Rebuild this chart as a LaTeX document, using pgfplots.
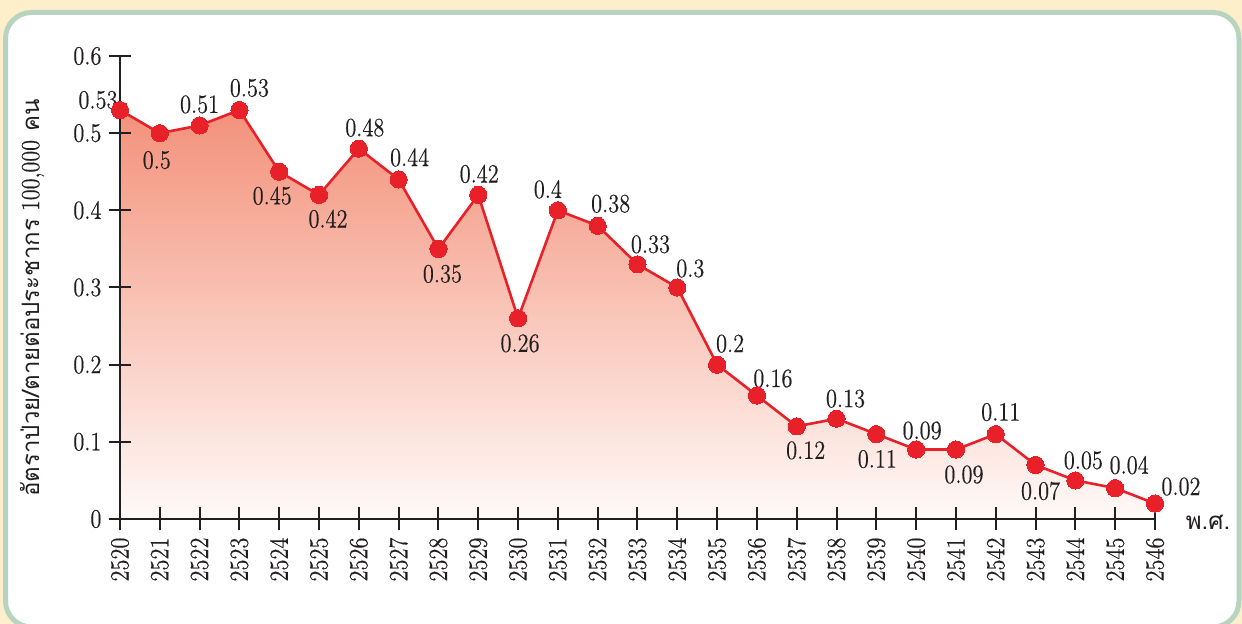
\documentclass[border=0pt]{standalone}
\usepackage{fontspec}
\usepackage{pgfplots}
\pgfplotsset{compat=1.18}
\newfontfamily\thaifont[Script=Thai]{Loma}
\newfontfamily\numfont{Latin Modern Roman}[FakeStretch=0.85,FakeBold=0.4]
\definecolor{bgbeige}{HTML}{FDEFC9}
\definecolor{panelborder}{HTML}{B9D3C1}
\definecolor{linered}{HTML}{E8202A}
\definecolor{areatop}{HTML}{F3917A}
\definecolor{areabot}{HTML}{FFFAF8}
\definecolor{axisblack}{HTML}{231F20}
\pgfplotstableread{
year val
2520 0.53
2521 0.50
2522 0.51
2523 0.53
2524 0.45
2525 0.42
2526 0.48
2527 0.44
2528 0.35
2529 0.42
2530 0.26
2531 0.40
2532 0.38
2533 0.33
2534 0.30
2535 0.20
2536 0.16
2537 0.12
2538 0.13
2539 0.11
2540 0.09
2541 0.09
2542 0.11
2543 0.07
2544 0.05
2545 0.04
2546 0.02
}\datatable
\newcommand{\lbl}{\numfont\fontsize{13.2}{15}\selectfont}
\pgfplotsset{common/.style={
  at={(60pt,52.5pt)}, anchor=south west,
  scale only axis, width=517.5pt, height=231.5pt,
  xmin=2520, xmax=2546, ymin=0, ymax=0.6,
  clip=false}}
\begin{document}
\begin{tikzpicture}
\useasboundingbox (0,0) rectangle (621pt,312pt);
\fill[bgbeige] (0,0) rectangle (621pt,312pt);
\begin{scope}
\clip (0,0) rectangle (621pt,312pt);
\draw[panelborder, line width=2.5pt, fill=white, rounded corners=13pt] (2.75pt,-1.5pt) rectangle (619.5pt,305.75pt);
\end{scope}
\begin{axis}[common, hide axis]
\addplot[draw=none, top color=areatop, bottom color=areabot] table[x=year,y=val]{\datatable} \closedcycle;
\end{axis}
\begin{axis}[
  common,
  axis lines=left,
  axis line style={-, line width=1pt, draw=axisblack},
  tick style={line width=1pt, draw=axisblack},
  tick align=center, major tick length=11.5pt,
  xtick={2520,2521,...,2546},
  xticklabels={2520,2521,2522,2523,2524,2525,2526,2527,2528,2529,2530,2531,2532,2533,2534,2535,2536,2537,2538,2539,2540,2541,2542,2543,2544,2545,2546},
  ytick={0,0.1,0.2,0.3,0.4,0.5,0.6},
  yticklabels={0,0.1,0.2,0.3,0.4,0.5,0.6},
  x tick label style={rotate=90, anchor=east},
  tick label style={font=\lbl, text=axisblack},
]
\addplot[linered, line width=1.3pt, mark=*, mark size=4.3pt, mark options={fill=linered, draw=linered, line width=0pt}] table[x=year,y=val]{\datatable};
\begin{scope}[every node/.style={font=\lbl, text=axisblack, inner sep=0pt}]
\node[xshift=-11pt, yshift=5pt] at (axis cs:2520,0.53) {0.53};
\node[xshift=-1.5pt, yshift=-13.5pt] at (axis cs:2521,0.50) {0.5};
\node[xshift=0pt, yshift=10.5pt] at (axis cs:2522,0.51) {0.51};
\node[xshift=5pt, yshift=11pt] at (axis cs:2523,0.53) {0.53};
\node[xshift=-3.5pt, yshift=-12pt] at (axis cs:2524,0.45) {0.45};
\node[xshift=4.5pt, yshift=-12pt] at (axis cs:2525,0.42) {0.42};
\node[xshift=3pt, yshift=10.5pt] at (axis cs:2526,0.48) {0.48};
\node[xshift=5.5pt, yshift=11pt] at (axis cs:2527,0.44) {0.44};
\node[xshift=2pt, yshift=-12.5pt] at (axis cs:2528,0.35) {0.35};
\node[xshift=0.5pt, yshift=10.5pt] at (axis cs:2529,0.42) {0.42};
\node[xshift=1pt, yshift=-12.5pt] at (axis cs:2530,0.26) {0.26};
\node[xshift=-5pt, yshift=10.5pt] at (axis cs:2531,0.40) {0.4};
\node[xshift=6.5pt, yshift=11pt] at (axis cs:2532,0.38) {0.38};
\node[xshift=6.5pt, yshift=10pt] at (axis cs:2533,0.33) {0.33};
\node[xshift=6.5pt, yshift=9.5pt] at (axis cs:2534,0.30) {0.3};
\node[xshift=6.5pt, yshift=10.5pt] at (axis cs:2535,0.20) {0.2};
\node[xshift=8pt, yshift=8.5pt] at (axis cs:2536,0.16) {0.16};
\node[xshift=4.5pt, yshift=-12pt] at (axis cs:2537,0.12) {0.12};
\node[xshift=4.5pt, yshift=10pt] at (axis cs:2538,0.13) {0.13};
\node[xshift=0.5pt, yshift=-12.5pt] at (axis cs:2539,0.11) {0.11};
\node[xshift=3pt, yshift=9.5pt] at (axis cs:2540,0.09) {0.09};
\node[xshift=4pt, yshift=-12.5pt] at (axis cs:2541,0.09) {0.09};
\node[xshift=2.5pt, yshift=11pt] at (axis cs:2542,0.11) {0.11};
\node[xshift=2.5pt, yshift=-13pt] at (axis cs:2543,0.07) {0.07};
\node[xshift=4pt, yshift=10pt] at (axis cs:2544,0.05) {0.05};
\node[xshift=7pt, yshift=11.5pt] at (axis cs:2545,0.04) {0.04};
\node[xshift=13pt, yshift=8.5pt] at (axis cs:2546,0.02) {0.02};
\end{scope}
\end{axis}
\node[rotate=90, font=\thaifont\fontsize{12}{13}\selectfont, text=axisblack] at (16pt,163pt) {อัตราป่วย/ตายต่อประชากร {\numfont\fontsize{13}{13}\selectfont 100,000} คน};
\node[font=\thaifont\fontsize{12}{13}\selectfont, text=axisblack] at (604pt,51pt) {พ.ศ.};
\end{tikzpicture}
\end{document}
